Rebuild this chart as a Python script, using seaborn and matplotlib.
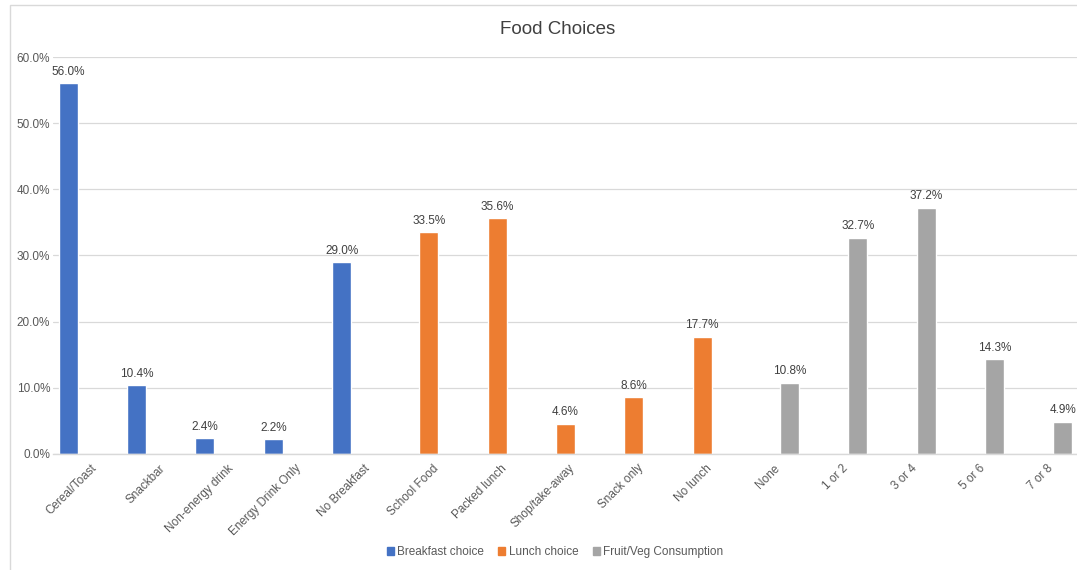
import matplotlib
matplotlib.use("Agg")
import matplotlib.pyplot as plt
import seaborn as sns
import pandas as pd
from matplotlib.patches import Rectangle
from matplotlib.ticker import FuncFormatter

categories = ["Cereal/Toast", "Snackbar", "Non-energy drink", "Energy Drink Only", "No Breakfast",
              "School Food", "Packed lunch", "Shop/take-away", "Snack only", "No lunch",
              "None", "1 or 2", "3 or 4", "5 or 6", "7 or 8"]
series_names = ["Breakfast choice", "Lunch choice", "Fruit/Veg Consumption"]
breakfast = [56.0, 10.4, 2.4, 2.2, 29.0, 0, 0, 0, 0, 0, 0, 0, 0, 0, 0]
lunch = [0, 0, 0, 0, 0, 33.5, 35.6, 4.6, 8.6, 17.7, 0, 0, 0, 0, 0]
fruitveg = [0, 0, 0, 0, 0, 0, 0, 0, 0, 0, 10.8, 32.7, 37.2, 14.3, 4.9]
colors = ["#4472C4", "#ED7D31", "#A5A5A5"]

rows = []
for name, vals in zip(series_names, [breakfast, lunch, fruitveg]):
    for c, v in zip(categories, vals):
        rows.append({"cat": c, "val": v / 100.0, "series": name})
df = pd.DataFrame(rows)

sns.set_style("white")
plt.rcParams['font.family'] = ['Liberation Sans', 'DejaVu Sans']

fig = plt.figure(figsize=(10.77, 5.70), dpi=100)
W, H = 1077, 570
ax = fig.add_axes([53 / W, 116 / H, 1025 / W, 397 / H])

sns.barplot(data=df, x="cat", y="val", hue="series", order=categories,
            hue_order=series_names, palette=colors, width=0.83, ax=ax,
            saturation=1, errorbar=None, legend=True)

ax.set_ylim(0, 0.6)
ax.set_yticks([0, 0.1, 0.2, 0.3, 0.4, 0.5, 0.6])
ax.yaxis.set_major_formatter(FuncFormatter(lambda v, p: f"{v*100:.1f}%"))
ax.grid(axis="y", color="#D9D9D9", linewidth=0.9)
ax.set_axisbelow(True)
for s in ["top", "right", "left"]:
    ax.spines[s].set_visible(False)
ax.spines["bottom"].set_color("#D9D9D9")
ax.spines["bottom"].set_linewidth(1.0)
ax.tick_params(axis="both", length=0, labelsize=8.5, colors="#595959")
ax.tick_params(axis="y", pad=2)
ax.set_xlabel("")
ax.set_ylabel("")
ax.set_xlim(-0.5, len(categories) - 0.5)

ax.set_xticks([i + 0.11 for i in range(len(categories))])
ax.set_xticklabels(categories, rotation=45, ha="right", va="center", rotation_mode="anchor")
ax.tick_params(axis="x", pad=9)

for cont in ax.containers:
    labels = [f"{b.get_height()*100:.1f}%" if b.get_height() > 0 else "" for b in cont]
    ax.bar_label(cont, labels=labels, padding=4, fontsize=8.5, color="#404040", clip_on=False)

ax.legend_.remove()
handles = [Rectangle((0, 0), 1, 1, color=c) for c in colors]
fig.legend(handles, series_names, loc="center", bbox_to_anchor=(555 / W, 1 - 552 / H),
           ncol=3, frameon=False, fontsize=8.5, handlelength=0.6, handleheight=0.6,
           handletextpad=0.3, columnspacing=1.2, labelcolor="#595959")

fig.text(558 / W, 1 - 30 / H, "Food Choices", ha="center", va="center",
         fontsize=13.5, color="#404040")

fig.add_artist(Rectangle((10 / W, -0.05), 1.1, 1 - 5 / H + 0.05, transform=fig.transFigure,
                         fill=False, edgecolor="#D9D9D9", linewidth=1.0))

fig.savefig("out.png", dpi=100)
